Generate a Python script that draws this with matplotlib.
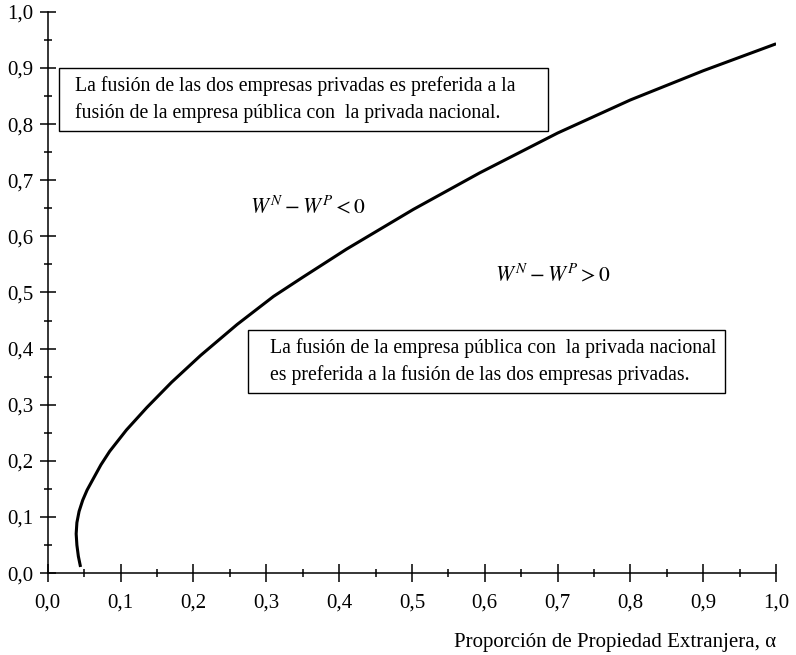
import matplotlib
matplotlib.use('Agg')
import matplotlib.pyplot as plt
from matplotlib.patches import Rectangle
from matplotlib.ticker import MultipleLocator, FuncFormatter

plt.rcParams['font.family'] = ['Liberation Serif', 'DejaVu Serif']
plt.rcParams['mathtext.fontset'] = 'stix'

# curve W^N - W^P = 0
alpha = [0.045, 0.042, 0.040, 0.039, 0.040, 0.043, 0.048, 0.054, 0.062, 0.073,
         0.085, 0.108, 0.136, 0.170, 0.210, 0.260, 0.310, 0.350, 0.410, 0.502,
         0.593, 0.700, 0.800, 0.900, 1.000]
frontier = [0.011, 0.030, 0.050, 0.070, 0.090, 0.110, 0.130, 0.148, 0.167, 0.193,
            0.217, 0.255, 0.295, 0.340, 0.388, 0.443, 0.493, 0.527, 0.577, 0.648,
            0.713, 0.784, 0.843, 0.895, 0.943]

box_top = 'La fusión de las dos empresas privadas es preferida a la\nfusión de la empresa pública con  la privada nacional.'
box_bottom = 'La fusión de la empresa pública con  la privada nacional\nes preferida a la fusión de las dos empresas privadas.'
label_neg = r'$W^N - W^P < 0$'
label_pos = r'$W^N - W^P > 0$'
xlabel = 'Proporción de Propiedad Extranjera, α'

fig = plt.figure(figsize=(7.96, 6.55), dpi=100)
ax = fig.add_axes([0.060, 0.125, 0.915, 0.857])

ax.plot(alpha, frontier, color='black', lw=2.2, solid_capstyle='butt', solid_joinstyle='round')

ax.set_xlim(0, 1.0)
ax.set_ylim(0, 1.0)
for s in ['top', 'right']:
    ax.spines[s].set_visible(False)
for s in ['left', 'bottom']:
    ax.spines[s].set_linewidth(1.1)

ax.xaxis.set_major_locator(MultipleLocator(0.1))
ax.xaxis.set_minor_locator(MultipleLocator(0.05))
ax.yaxis.set_major_locator(MultipleLocator(0.1))
ax.yaxis.set_minor_locator(MultipleLocator(0.05))
fmt = FuncFormatter(lambda v, p: '{:.1f}'.format(v).replace('.', ','))
ax.xaxis.set_major_formatter(fmt)
ax.yaxis.set_major_formatter(fmt)
ax.tick_params(axis='x', which='major', direction='inout', length=13.5, width=1.1, labelsize=15, pad=8)
ax.tick_params(axis='x', which='minor', direction='inout', length=6, width=1.1)
ax.tick_params(axis='y', which='major', direction='inout', length=11, width=1.1, labelsize=15, pad=5)
ax.tick_params(axis='y', which='minor', direction='inout', length=6, width=1.1)

ax.set_xlabel(xlabel, fontsize=15, loc='right', labelpad=15)

# text boxes
ax.add_patch(Rectangle((0.015, 0.788), 0.672, 0.112, fill=False, lw=1.0, ec='black', clip_on=False))
ax.text(0.037, 0.844, box_top, fontsize=14.2, va='center', ha='left', linespacing=1.48)
ax.add_patch(Rectangle((0.275, 0.321), 0.655, 0.112, fill=False, lw=1.0, ec='black', clip_on=False))
ax.text(0.305, 0.377, box_bottom, fontsize=14.2, va='center', ha='left', linespacing=1.48)

ax.text(0.277, 0.651, label_neg, fontsize=15.5, va='center', ha='left')
ax.text(0.614, 0.531, label_pos, fontsize=15.5, va='center', ha='left')

fig.savefig('out.png', dpi=100)
